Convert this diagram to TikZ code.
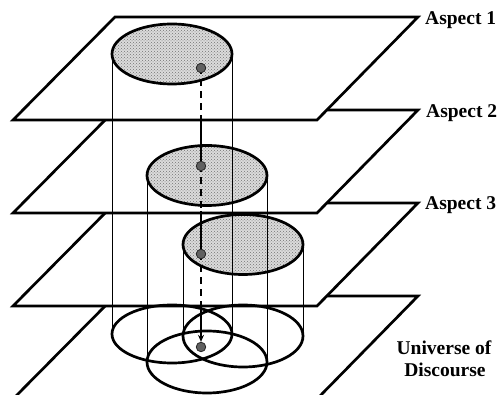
\documentclass[tikz,border=0pt]{standalone}
\usepackage{fontspec}
\setmainfont{Liberation Serif}
\usetikzlibrary{patterns,arrows.meta}
\begin{document}
\begin{tikzpicture}[x=1pt,y=-1pt,
  plane/.style={draw=black,line width=2.7pt,fill=white,line join=miter},
  disk/.style={draw=black,line width=2.7pt},
  ring/.style={draw=black,line width=2.7pt},
  rod/.style={draw=black,line width=0.8pt},
  dot/.style={circle,draw=black!85,fill=gray!75!black,line width=0.8pt,inner sep=0pt,minimum size=9.5pt},
  link/.style={line width=2pt},
  hidden/.style={link,dash pattern=on 7pt off 5pt,dash phase=-6pt},
  lbl/.style={font=\fontsize{19.5}{22}\selectfont\bfseries,inner sep=0pt}]
\useasboundingbox (0,0) rectangle (501,395);
% planes, from bottom to top
\begin{scope}
\clip (0,0) rectangle (501,395);
\foreach \t/\n in {296/4,203/3,110/2,17/1}{
  \draw[plane] (115,\t) coordinate (p\n tl) -- (418,\t) coordinate (p\n tr) -- (317,\t+103) -- (13,\t+103) -- cycle;
}
\end{scope}
% shaded regions on the aspect planes
\foreach \cx/\cy in {172/54,207/175.5,243/244.5}{
  \fill[white] (\cx,\cy) ellipse [x radius=60, y radius=30];
  \fill[gray!28] (\cx,\cy) ellipse [x radius=60, y radius=30];
  \fill[pattern=crosshatch dots, pattern color=gray!90!black] (\cx,\cy) ellipse [x radius=60, y radius=30];
  \draw[disk] (\cx,\cy) ellipse [x radius=60, y radius=30];
}
% projections on the universe of discourse
\draw[ring] (172,334) ellipse [x radius=60, y radius=29];
\draw[ring] (243,336) ellipse [x radius=60, y radius=31];
\draw[ring] (207,362) ellipse [x radius=60, y radius=31];
% cylinder edges
\coordinate (e1w) at (112,54);   \coordinate (a1w) at (112,334);
\coordinate (e1e) at (232,54);   \coordinate (a1e) at (232,334);
\coordinate (e2w) at (147,175.5);\coordinate (a2w) at (147,362);
\coordinate (e2e) at (267,175.5);\coordinate (a2e) at (267,362);
\coordinate (e3w) at (183,244.5);\coordinate (a3w) at (183,336);
\coordinate (e3e) at (303,244.5);\coordinate (a3e) at (303,336);
\foreach \p in {1w,1e,2w,2e,3w,3e}{ \draw[rod] (e\p) -- (a\p); }
% element and its path
\node[dot] (d1) at (201,68) {};
\node[dot] (d2) at (201,166) {};
\node[dot] (d3) at (201,254) {};
\node[dot] (d4) at (201,347) {};
\coordinate (c1) at (201,119);
\coordinate (c2) at (201,211);
\coordinate (c3) at (201,305);
\draw[hidden] (d1) -- (c1); \draw[link] (c1) -- (d2);
\draw[hidden] (d2) -- (c2); \draw[link] (c2) -- (d3);
\draw[hidden] (d3) -- (c3); \draw[link,-{Stealth[length=7pt,width=6pt]}] (c3) -- (d4);
% labels
\node[lbl,anchor=base west] (l1) at (425,25) {Aspect 1};
\node[lbl,anchor=base west] (l2) at (426,118) {Aspect 2};
\node[lbl,anchor=base west] (l3) at (425,210) {Aspect 3};
\node[lbl,anchor=base] (l4) at (444,355) {Universe of};
\node[lbl,anchor=base] (l5) at (445,377) {Discourse};
\end{tikzpicture}
\end{document}
